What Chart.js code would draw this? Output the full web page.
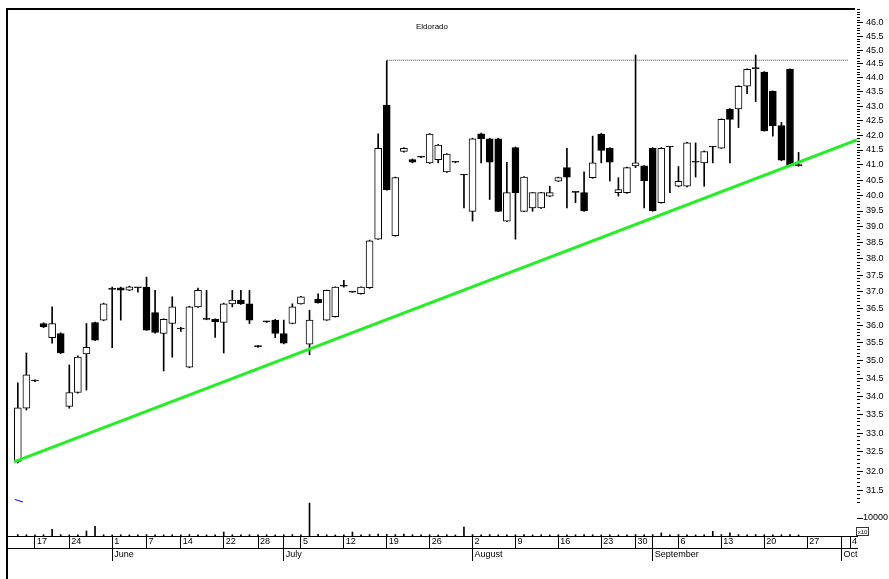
<!DOCTYPE html>
<html>
<head>
<meta charset="utf-8">
<title>Eldorado</title>
<script src="https://cdn.jsdelivr.net/npm/chart.js@4.4.1/dist/chart.umd.min.js"></script>
<style>
  html, body { margin: 0; padding: 0; background: #fff; }
</style>
</head>
<body>
<canvas id="eldorado" width="889" height="579"></canvas>
<script>
// one entry per trading session, index 0 = mid May
const opens = [32.25, 33.67, 34.42, 36.06, 35.65, 35.77, 33.72, 34.10, 35.18, 36.09,
  36.16, 37.07, 37.12, 37.05, 37.12, 37.14, 36.38, 35.77, 36.06, 35.90,
  34.81, 36.55, 36.18, 36.18, 36.09, 36.64, 36.75, 36.64, 35.39, 36.11,
  36.16, 35.77, 36.06, 36.64, 35.46, 36.77, 36.16, 36.26, 37.17, 36.99,
  36.94, 37.12, 38.61, 43.04, 38.72, 41.45, 41.18, 41.26, 41.07, 41.18,
  40.77, 41.09, 40.67, 39.49, 42.05, 41.88, 41.88, 39.18, 41.58, 39.49,
  39.60, 39.60, 39.98, 40.47, 40.91, 40.10, 40.09, 40.58, 42.04, 41.56,
  40.09, 40.09, 40.97, 40.97, 41.56, 39.77, 41.60, 40.30, 40.30, 41.09,
  41.07, 41.60, 41.56, 42.90, 42.90, 43.70, 44.33, 44.20, 43.52, 42.33,
  44.30, 40.98];
const highs = [34.37, 35.21, 34.45, 36.08, 36.55, 35.79, 34.87, 35.13, 36.06, 36.10,
  36.66, 37.14, 37.14, 37.17, 37.13, 37.44, 37.04, 36.20, 36.85, 35.95,
  36.57, 37.11, 37.04, 36.20, 36.66, 37.04, 37.04, 37.04, 35.42, 36.13,
  36.18, 36.16, 36.64, 36.86, 36.45, 36.94, 37.05, 37.15, 37.34, 37.00,
  37.15, 38.58, 42.05, 44.61, 40.60, 41.58, 41.20, 41.27, 42.06, 41.69,
  41.38, 41.11, 40.69, 41.90, 42.07, 41.90, 41.90, 41.09, 41.60, 40.62,
  40.10, 40.10, 40.30, 40.60, 41.56, 40.12, 40.77, 41.97, 42.06, 41.58,
  40.58, 40.93, 44.82, 40.98, 41.58, 41.58, 41.62, 40.95, 41.76, 41.74,
  41.47, 41.62, 42.56, 42.92, 43.72, 44.32, 44.82, 44.22, 43.54, 42.44,
  44.32, 41.42];
const lows = [32.21, 33.62, 34.40, 35.94, 35.49, 35.19, 33.67, 34.08, 34.17, 35.56,
  36.14, 35.36, 36.16, 37.03, 36.99, 35.86, 35.78, 34.70, 35.09, 35.83,
  34.79, 36.53, 36.17, 35.66, 35.21, 36.55, 36.62, 36.06, 35.37, 36.09,
  35.65, 35.47, 36.05, 36.63, 35.16, 36.66, 36.15, 36.25, 37.14, 36.98,
  36.93, 37.10, 38.60, 40.17, 38.70, 41.43, 41.07, 41.24, 41.05, 41.07,
  40.75, 41.07, 39.60, 39.18, 41.07, 39.87, 39.48, 39.16, 38.61, 39.48,
  39.49, 39.58, 39.96, 40.45, 39.60, 39.77, 39.49, 40.56, 41.07, 40.47,
  39.98, 40.07, 40.91, 39.60, 39.49, 39.75, 40.09, 40.28, 40.28, 40.60,
  40.30, 41.07, 41.55, 41.07, 42.26, 43.44, 43.16, 42.14, 41.97, 41.14,
  40.97, 40.96];
const closes = [33.68, 34.59, 34.42, 35.96, 36.06, 35.21, 34.10, 35.09, 35.37, 35.58,
  36.64, 37.07, 37.05, 37.15, 37.12, 35.87, 35.80, 36.18, 36.55, 35.90,
  36.55, 37.04, 36.18, 36.11, 36.64, 36.75, 36.64, 36.16, 35.39, 36.11,
  35.77, 35.49, 36.55, 36.85, 36.16, 36.67, 37.04, 37.14, 37.17, 36.99,
  37.14, 38.56, 41.56, 40.19, 40.58, 41.56, 41.09, 41.26, 42.04, 41.67,
  41.36, 41.09, 40.67, 41.88, 41.88, 41.09, 39.49, 40.09, 40.09, 40.60,
  40.09, 40.09, 40.09, 40.58, 40.60, 40.10, 39.51, 41.07, 41.49, 41.09,
  40.19, 40.91, 41.07, 40.48, 39.51, 41.56, 41.60, 40.46, 41.74, 41.09,
  41.45, 41.60, 42.54, 42.54, 43.70, 44.30, 44.33, 42.15, 42.33, 41.16,
  40.98, 40.98];
const volumes = [800, 700, 600, 700, 3700, 800, 600, 700, 2800, 5400,
  700, 600, 700, 600, 600, 800, 700, 600, 700, 600,
  800, 700, 600, 700, 2200, 700, 600, 700, 600, 700,
  600, 700, 800, 700, 18300, 900, 700, 600, 700, 2200,
  700, 800, 1000, 900, 800, 1100, 700, 600, 700, 600,
  700, 600, 5000, 800, 700, 800, 700, 600, 700, 800,
  600, 700, 600, 700, 600, 700, 800, 700, 600, 700,
  600, 700, 800, 700, 800, 1700, 700, 800, 700, 600,
  700, 2600, 800, 1700, 800, 700, 800, 700, 600, 700,
  800, 600];

// date axis (session index -> label)
const dayTicks = [2, 6, 11, 15, 19, 24, 28, 33, 38, 43, 48, 53, 58, 63, 68, 72, 77, 82, 87, 92, 97];
const dayTickLabels = ['17', '24', '1', '7', '14', '22', '28', '5', '12', '19', '26', '2', '9', '16', '23', '30', '6', '13', '20', '27', '4'];
const monthTicks = [11, 31, 53, 74, 96];
const monthLabels = ['June', 'July', 'August', 'September', 'Oct'];

const priceTickLabels = ['31.5', '32.0', '32.5', '33.0', '33.5', '34.0', '34.5', '35.0', '35.5', '36.0',
  '36.5', '37.0', '37.5', '38.0', '38.5', '39.0', '39.5', '40.0', '40.5', '41.0',
  '41.5', '42.0', '42.5', '43.0', '43.5', '44.0', '44.5', '45.0', '45.5', '46.0'];
const volumeTicks = [10000];
const volumeTickLabels = ['10000'];

// drawn lines
const trendLine = [{x: -0.44, y: 32.24}, {x: 97.8, y: 41.84}];
const resistance = [{x: 43, y: 44.63}, {x: 96.8, y: 44.63}];
const volumeAvg = [{x: -0.35, y: 20300}, {x: 0.6, y: 18900}];

const xMin = -1.26, xMax = 97.81;
const priceMin = 30.36, priceMax = 46.52;
const volumeMax = 292800;

const idx = opens.map((_, i) => i);
const bodies = idx.map(i => ({x: i, y: [opens[i], closes[i]]}));
const wicks = idx.map(i => ({x: i, y: [lows[i], highs[i]]}));
const vols = idx.map(i => ({x: i, y: volumes[i]}));

Chart.defaults.font.family = '"Liberation Sans", Arial, sans-serif';
Chart.defaults.color = '#000';

// keep the side axes from pushing the plot area around
const flatAxis = width => s => {
  s.width = width;
  s.paddingTop = 0;
  s.paddingBottom = 0;
};

const frame = {
  id: 'frame',
  afterDraw(chart) {
    const {ctx, chartArea: a} = chart;
    const yv = chart.scales.yv;
    ctx.save();
    ctx.strokeStyle = '#000';
    ctx.lineWidth = 2;
    ctx.beginPath();
    ctx.moveTo(a.left, chart.height);
    ctx.lineTo(a.left, a.top);
    ctx.lineTo(a.right - 2, a.top);
    ctx.stroke();

    ctx.fillStyle = '#000';
    ctx.font = '8px "Liberation Sans", Arial, sans-serif';
    ctx.textAlign = 'center';
    ctx.textBaseline = 'middle';
    ctx.fillText('Eldorado', (a.left + a.right) / 2, a.top + 18);

    // x10 multiplier box under the volume scale
    const by = Math.round(yv.getPixelForValue(10000)) + 9;
    ctx.lineWidth = 1;
    ctx.strokeStyle = '#333';
    ctx.strokeRect(a.right - 0.5, by + 0.5, 12, 8);
    ctx.font = '6px "Liberation Sans", Arial, sans-serif';
    ctx.fillText('x10', a.right + 5.5, by + 5);
    ctx.restore();
  }
};

new Chart(document.getElementById('eldorado'), {
  type: 'bar',
  data: {
    datasets: [
      {
        type: 'line',
        label: 'trend',
        data: trendLine,
        xAxisID: 'x', yAxisID: 'y',
        borderColor: '#22f022',
        borderWidth: 3,
        pointRadius: 0,
        order: -1
      },
      {
        label: 'body',
        data: bodies,
        xAxisID: 'x', yAxisID: 'y',
        grouped: false,
        barThickness: 7,
        minBarLength: 1,
        backgroundColor: idx.map(i => closes[i] > opens[i] ? '#fff' : '#000'),
        borderColor: '#000',
        borderWidth: 1,
        borderSkipped: false,
        order: 0
      },
      {
        label: 'range',
        data: wicks,
        xAxisID: 'x', yAxisID: 'y',
        grouped: false,
        barThickness: 1,
        backgroundColor: '#000',
        borderWidth: 0,
        order: 1
      },
      {
        type: 'line',
        label: 'resistance',
        data: resistance,
        xAxisID: 'x', yAxisID: 'y',
        borderColor: '#444',
        borderWidth: 1,
        borderDash: [1, 1],
        pointRadius: 0,
        order: 2
      },
      {
        label: 'volume',
        data: vols,
        xAxisID: 'x', yAxisID: 'yv',
        grouped: false,
        barThickness: 1,
        backgroundColor: '#000',
        borderWidth: 0,
        order: 1
      },
      {
        type: 'line',
        label: 'volume avg',
        data: volumeAvg,
        xAxisID: 'x', yAxisID: 'yv',
        borderColor: '#0000ff',
        borderWidth: 1,
        pointRadius: 0,
        order: 0
      }
    ]
  },
  options: {
    responsive: false,
    animation: false,
    devicePixelRatio: 1,
    layout: { padding: { left: 7, top: 9, right: 0, bottom: 0 } },
    plugins: {
      legend: { display: false },
      tooltip: { enabled: false }
    },
    scales: {
      x: {
        type: 'linear', position: 'bottom', weight: 0,
        min: xMin, max: xMax, offset: false, bounds: 'data',
        afterBuildTicks: s => {
          const all = Array.from(new Set(dayTicks.concat(monthTicks))).sort((a, b) => a - b);
          s.ticks = all.map(v => ({value: v}));
        },
        afterFit: s => { s.height = 12; },
        ticks: {
          autoSkip: false, maxRotation: 0, align: 'start', labelOffset: 2, padding: -11.5,
          font: { size: 9 },
          callback: v => {
            const k = dayTicks.indexOf(v);
            return k >= 0 ? dayTickLabels[k] : '';
          }
        },
        grid: { drawOnChartArea: false, tickLength: 12, color: '#000', offset: false },
        border: { display: true, color: '#000' }
      },
      xm: {
        type: 'linear', position: 'bottom', weight: 1,
        min: xMin, max: xMax, offset: false, bounds: 'data',
        afterBuildTicks: s => { s.ticks = monthTicks.map(v => ({value: v})); },
        afterFit: s => { s.height = 31; },
        ticks: {
          autoSkip: false, maxRotation: 0, align: 'start', labelOffset: 2, padding: -11.5,
          font: { size: 9 },
          callback: (v, i) => monthLabels[i]
        },
        grid: { drawOnChartArea: false, tickLength: 13, color: '#000', offset: false },
        border: { display: true, color: '#000' }
      },
      yMinor: {
        type: 'logarithmic', position: 'right', weight: 0,
        min: priceMin, max: priceMax, bounds: 'data',
        afterBuildTicks: s => {
          const t = [];
          for (let k = 312; k <= 465; k++) t.push({value: k / 10});
          s.ticks = t;
        },
        afterFit: flatAxis(0),
        ticks: { display: false, autoSkip: false },
        grid: { drawOnChartArea: false, tickLength: 3, color: '#000' },
        border: { display: false }
      },
      yv: {
        type: 'linear', position: 'right', weight: 0,
        min: 0, max: volumeMax, bounds: 'data',
        afterBuildTicks: s => { s.ticks = volumeTicks.map(v => ({value: v})); },
        afterFit: flatAxis(0),
        ticks: {
          autoSkip: false, mirror: true, crossAlign: 'near', padding: 31,
          font: { size: 9 }, callback: (v, i) => volumeTickLabels[i]
        },
        grid: { drawOnChartArea: false, tickLength: 6, color: '#000' },
        border: { display: false }
      },
      y: {
        type: 'logarithmic', position: 'right', weight: 1,
        min: priceMin, max: priceMax, bounds: 'data',
        afterBuildTicks: s => { s.ticks = priceTickLabels.map(l => ({value: parseFloat(l)})); },
        afterFit: flatAxis(32),
        ticks: { autoSkip: false, padding: 3, font: { size: 9 }, callback: (v, i) => priceTickLabels[i] },
        grid: { drawOnChartArea: false, tickLength: 6, color: '#000' },
        border: { display: false }
      }
    }
  },
  plugins: [frame]
});
</script>
</body>
</html>
